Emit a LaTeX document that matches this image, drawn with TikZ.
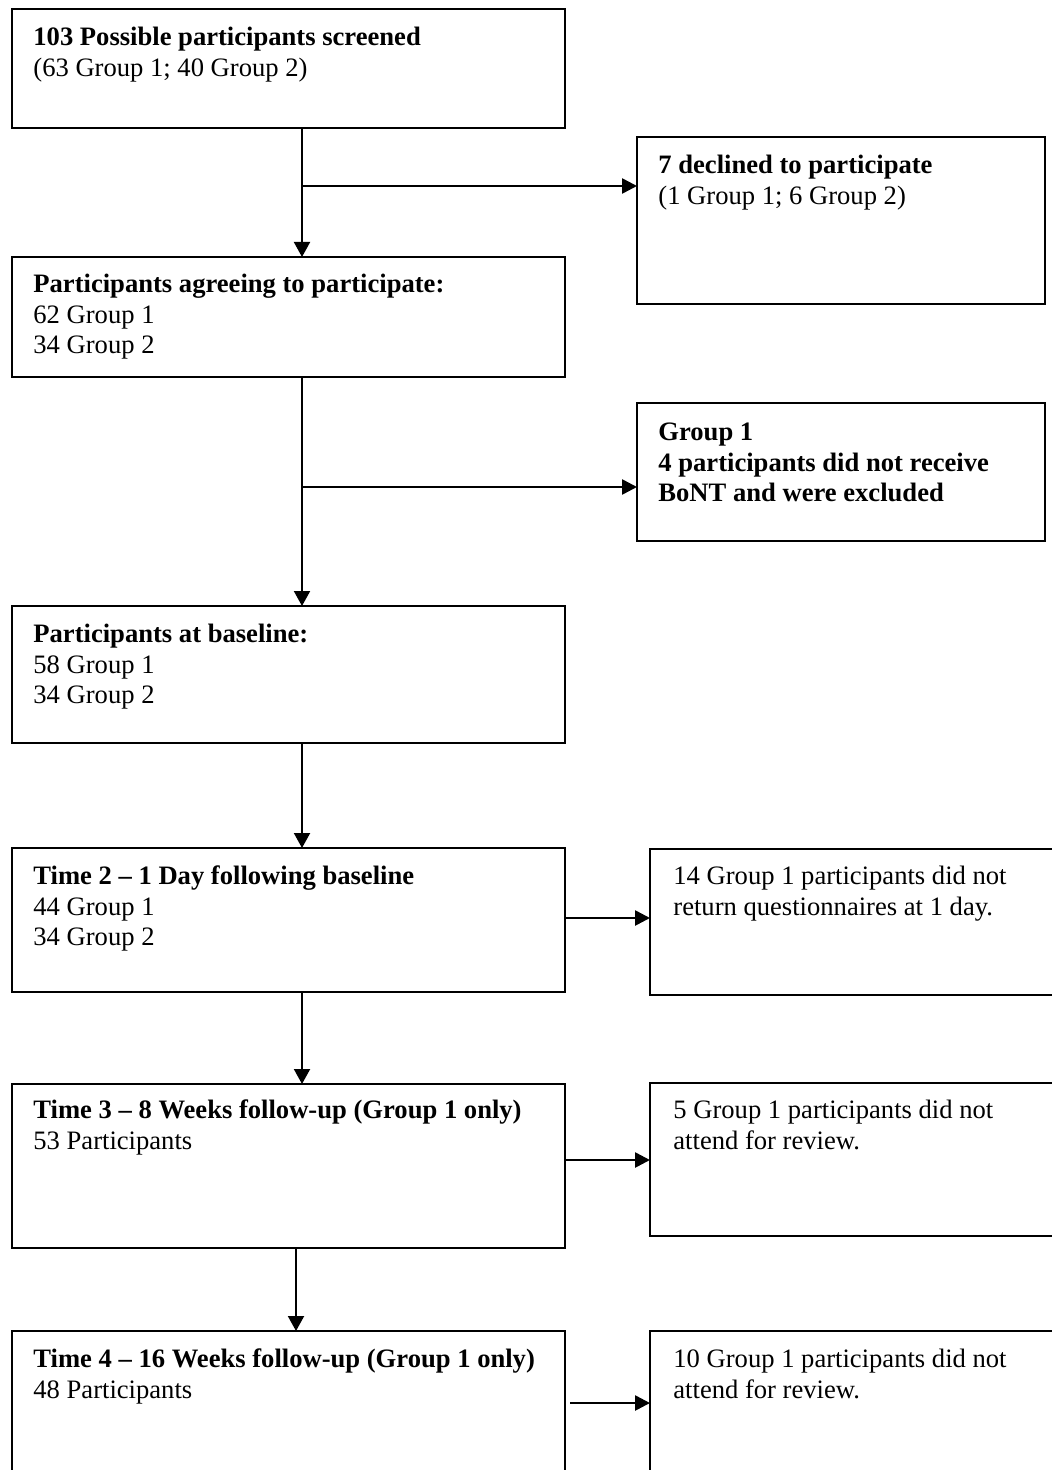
\documentclass[tikz,border=0pt]{standalone}
\usepackage{fontspec}
\setmainfont{Liberation Serif}
\usetikzlibrary{arrows.meta}
\tikzset{
  box/.style={draw, line width=1pt, rectangle, anchor=north west, inner sep=0pt, outer sep=0pt},
  lbox/.style={box, minimum width=276.5pt},
  rbox/.style={box, minimum width=204pt},
  rboxw/.style={box, minimum width=205pt},
  txt/.style={anchor=north west, align=left, inner sep=0pt, font=\fontsize{13.3}{15.35}\selectfont},
  varr/.style={line width=1pt, -{Triangle[length=7.5pt,width=8pt]}},
  harr/.style={line width=1.3pt, -{Triangle[length=7.5pt,width=7.5pt]}},
}
\begin{document}
\begin{tikzpicture}[x=0.5pt, y=-0.5pt]
\useasboundingbox (0,0) rectangle (1052,1470);
\clip (0,0) rectangle (1052,1470);
% boxes
\node[lbox, minimum height=59.5pt] (b1) at (12,9) {};
\node[rbox, minimum height=83.5pt] (d1) at (637,137) {};
\node[lbox, minimum height=60pt] (b2) at (12,257) {};
\node[rbox, minimum height=69pt] (d2) at (637,403) {};
\node[lbox, minimum height=68.5pt] (b3) at (12,606) {};
\node[lbox, minimum height=72pt] (b4) at (12,848) {};
\node[rboxw, minimum height=73pt] (d4) at (650,849) {};
\node[lbox, minimum height=82pt] (b5) at (12,1084) {};
\node[rboxw, minimum height=76.5pt] (d5) at (650,1083) {};
\node[lbox, minimum height=80pt] (b6) at (12,1331) {};
\node[rboxw, minimum height=80pt] (d6) at (650,1331) {};
% texts (first baseline = top + 21.5)
\node[txt] (t1) at (33,23.5) {\strut\textbf{103 Possible participants screened}\\(63 Group 1; 40 Group 2)};
\node[txt] (u1) at (658,151.5) {\strut\textbf{7 declined to participate}\\(1 Group 1; 6 Group 2)};
\node[txt] (t2) at (33,270.5) {\strut\textbf{Participants agreeing to participate:}\\62 Group 1\\34 Group 2};
\node[txt] (u2) at (658,418.5) {\strut\textbf{Group 1}\\\textbf{4 participants did not receive}\\\textbf{BoNT and were excluded}};
\node[txt] (t3) at (33,620.5) {\strut\textbf{Participants at baseline:}\\58 Group 1\\34 Group 2};
\node[txt] (t4) at (33,862.5) {\strut\textbf{Time 2 -- 1 Day following baseline}\\44 Group 1\\34 Group 2};
\node[txt] (u4) at (673,862.5) {\strut 14 Group 1 participants did not\\return questionnaires at 1 day.};
\node[txt] (t5) at (33,1096.5) {\strut\textbf{Time 3 -- 8 Weeks follow-up (Group 1 only)}\\53 Participants};
\node[txt] (u5) at (673,1096.5) {\strut 5 Group 1 participants did not\\attend for review.};
\node[txt] (t6) at (33,1345.5) {\strut\textbf{Time 4 -- 16 Weeks follow-up (Group 1 only)}\\48 Participants};
\node[txt] (u6) at (673,1345.5) {\strut 10 Group 1 participants did not\\attend for review.};
% connectors
\coordinate (j1) at (302,186);
\coordinate (j2) at (302,487);
\coordinate (j3) at (302,800);
\coordinate (j4) at (302,918);
\coordinate (j5) at (296,1160);
\coordinate (s6) at (570,1403);
\draw[varr] (j1 |- b1.south) -- (j1 |- b2.north);
\draw[harr] (j1) -- (j1 -| d1.west);
\draw[varr] (j2 |- b2.south) -- (j2 |- b3.north);
\draw[harr] (j2) -- (j2 -| d2.west);
\draw[varr] (j3 |- b3.south) -- (j3 |- b4.north);
\draw[harr] (j4 -| b4.east) -- (j4 -| d4.west);
\draw[varr] (j4 |- b4.south) -- (j4 |- b5.north);
\draw[harr] (j5 -| b5.east) -- (j5 -| d5.west);
\draw[varr] (j5 |- b5.south) -- (j5 |- b6.north);
\draw[harr] (s6) -- (s6 -| d6.west);
\end{tikzpicture}
\end{document}
